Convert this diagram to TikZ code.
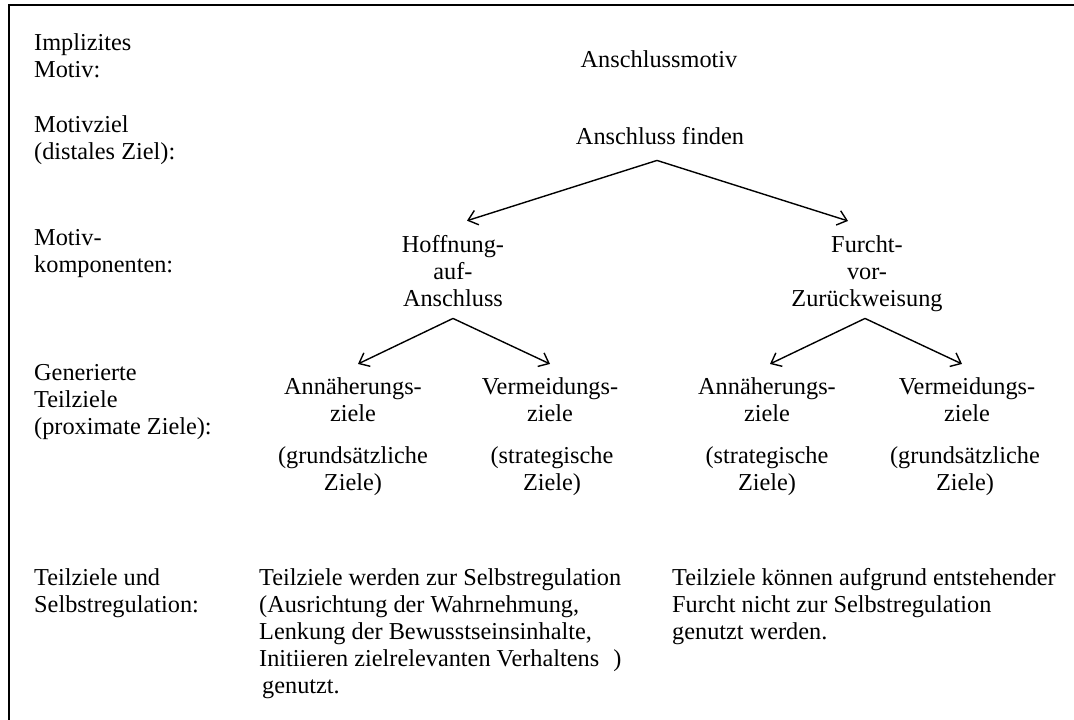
\documentclass[tikz,border=0pt]{standalone}
\usepackage{fontspec}
\setmainfont{Liberation Serif}
\usetikzlibrary{arrows.meta}
\tikzset{
  txt/.style={inner sep=0pt, font=\fontsize{24.3}{27}\selectfont},
  lbl/.style={txt, anchor=base west, align=left},
  ctr/.style={txt, anchor=base, align=center},
  arr/.style={-{Straight Barb[length=9pt,width=15pt]}, line width=1.4pt},
  frame/.style={line width=1.8pt}
}
\begin{document}
\begin{tikzpicture}[x=1pt,y=-1pt]
\useasboundingbox (0,0) rectangle (1074,720);
% frame
\coordinate (fl) at (9,720);
\coordinate (fc) at (9,5);
\coordinate (fr) at (1074,5);
\draw[frame] (fl) -- (fc) -- (fr);
% left labels (positions are baselines of last lines)
\node[lbl] (l1) at (34,77) {Implizites\\Motiv:};
\node[lbl] (l2) at (34,159) {Motivziel\\(distales Ziel):};
\node[lbl] (l3) at (34,272) {Motiv-\\komponenten:};
\node[lbl] (l4) at (34,434) {Generierte\\Teilziele\\(proximate Ziele):};
\node[lbl] (l5) at (34,612) {Teilziele und\\Selbstregulation:};
% tree
\node[ctr] (motiv) at (659,67) {Anschlussmotiv};
\node[ctr] (finden) at (660,144) {Anschluss finden};
\node[ctr] (hoff) at (453,306) {Hoffnung-\\auf-\\Anschluss};
\node[ctr] (furcht) at (867,306) {Furcht-\\vor-\\Zurückweisung};
\node[ctr] (a1) at (353,421) {Annäherungs-\\ziele};
\node[ctr] (v1) at (550,421) {Vermeidungs-\\ziele};
\node[ctr] (a2) at (767,421) {Annäherungs-\\ziele};
\node[ctr] (v2) at (967,421) {Vermeidungs-\\ziele};
\node[ctr] (p1) at (353,490) {(grundsätzliche\\Ziele)};
\node[ctr] (p2) at (552,490) {(strategische\\Ziele)};
\node[ctr] (p3) at (767,490) {(strategische\\Ziele)};
\node[ctr] (p4) at (965,490) {(grundsätzliche\\Ziele)};
% bottom texts
\node[lbl] (s1) at (259,693) {Teilziele werden zur Selbstregulation\\(Ausrichtung der Wahrnehmung,\\Lenkung der Bewusstseinsinhalte,\\Initiieren zielrelevanten Verhaltens\hspace{14pt})\\\hspace*{3pt}genutzt.};
\node[lbl] (s2) at (672,639) {Teilziele können aufgrund entstehender\\Furcht nicht zur Selbstregulation\\genutzt werden.};
% arrows
\draw[arr] ([xshift=-3pt,yshift=-16pt]finden.south) -- ([xshift=14pt,yshift=14pt]hoff.north);
\draw[arr] ([xshift=-3pt,yshift=-16pt]finden.south) -- ([xshift=-19pt,yshift=14pt]furcht.north);
\draw[arr] ([yshift=-12pt]hoff.south) -- ([xshift=5pt,yshift=13pt]a1.north);
\draw[arr] ([yshift=-12pt]hoff.south) -- ([yshift=13pt]v1.north);
\draw[arr] ([xshift=-2pt,yshift=-7pt]furcht.south) -- ([xshift=3pt,yshift=13pt]a2.north);
\draw[arr] ([xshift=-2pt,yshift=-7pt]furcht.south) -- ([xshift=-5pt,yshift=13pt]v2.north);
\end{tikzpicture}
\end{document}
